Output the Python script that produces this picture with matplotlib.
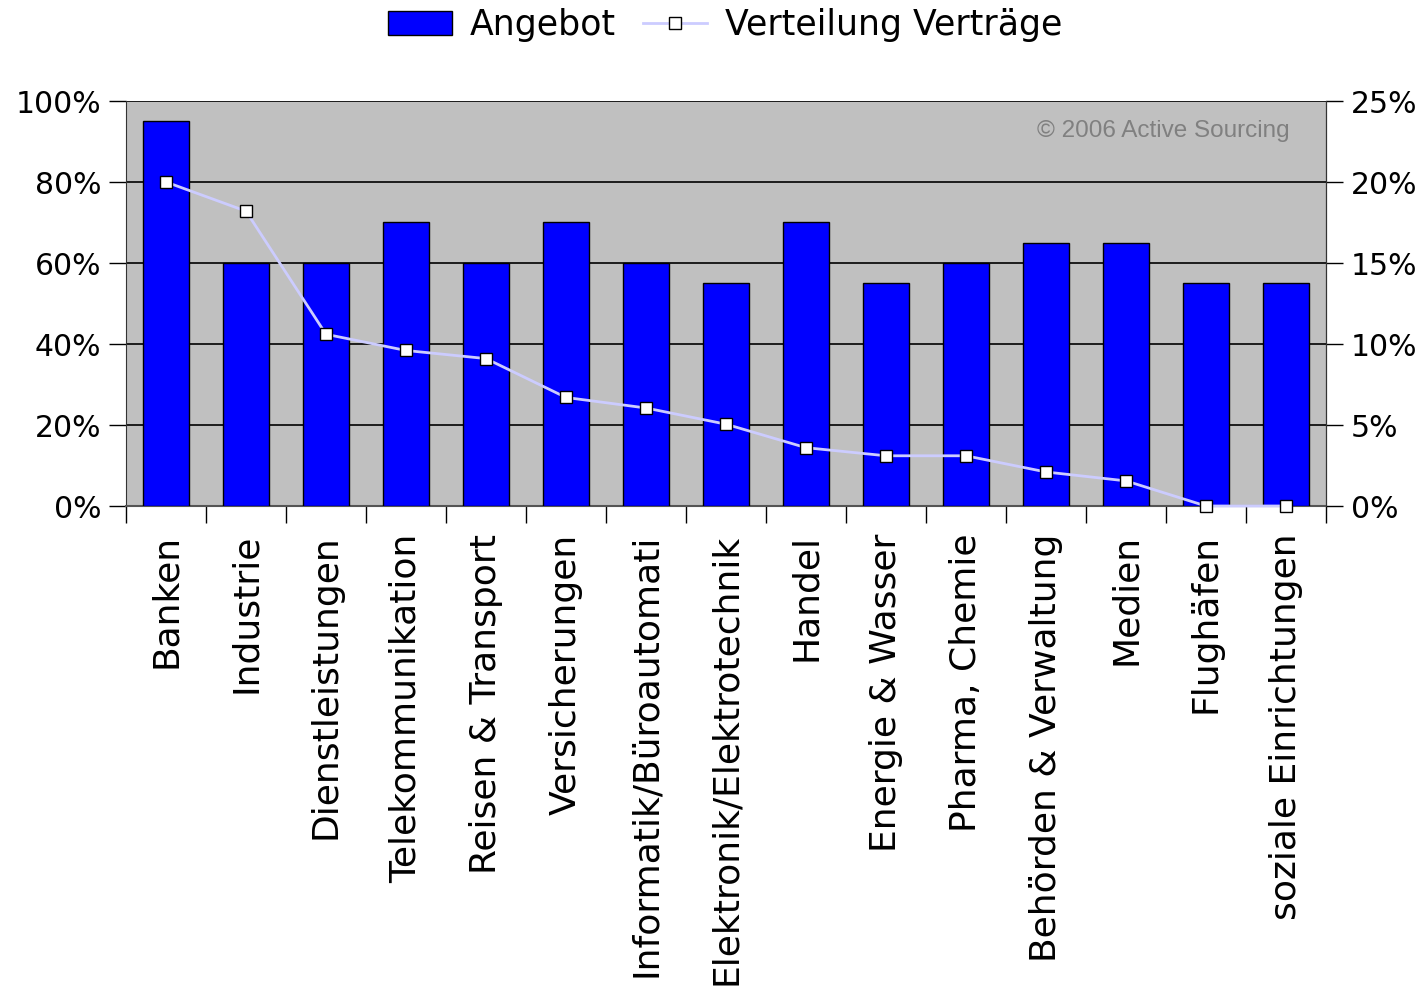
import matplotlib
matplotlib.use("Agg")
import matplotlib.pyplot as plt
import numpy as np
from matplotlib.ticker import FuncFormatter, FixedLocator
from matplotlib.lines import Line2D
from matplotlib.patches import Patch

categories = ["Banken", "Industrie", "Dienstleistungen", "Telekommunikation",
              "Reisen & Transport", "Versicherungen", "Informatik/Büroautomati",
              "Elektronik/Elektrotechnik", "Handel", "Energie & Wasser",
              "Pharma, Chemie", "Behörden & Verwaltung", "Medien", "Flughäfen",
              "soziale Einrichtungen"]
angebot = [95, 60, 60, 70, 60, 70, 60, 55, 70, 55, 60, 65, 65, 55, 55]
vertraege = [20.0, 18.2, 10.6, 9.6, 9.1, 6.7, 6.05, 5.05, 3.6, 3.1, 3.1, 2.1, 1.55, 0.0, 0.0]
left_ticks = [0, 20, 40, 60, 80, 100]
right_ticks = [0, 5, 10, 15, 20, 25]

plt.rcParams['font.family'] = ['DejaVu Sans']
fig = plt.figure(figsize=(14.27, 9.97), dpi=100)
ax = fig.add_axes([126/1427, 1-506/997, 1200/1427, 405/997])
ax.set_facecolor('#C0C0C0')
x = np.arange(len(categories))
ax.bar(x, angebot, width=0.58, color='#0000FF', edgecolor='black', linewidth=1, zorder=3)
ax.set_xlim(-0.5, len(categories)-0.5)
ax.set_ylim(0, 100)
ax.yaxis.set_major_locator(FixedLocator(left_ticks))
ax.yaxis.set_major_formatter(FuncFormatter(lambda v, p: f"{int(v)}%"))
ax.grid(axis='y', color='black', linewidth=1.2, zorder=1)
ax.set_axisbelow(True)
ax.set_xticks(x)
ax.set_xticklabels(categories, rotation=90, fontsize=26)
ax.tick_params(axis='x', length=0, pad=20)
ax.set_xticks(np.arange(-0.5, len(categories), 1), minor=True)
ax.tick_params(axis='x', which='minor', length=12, width=1, direction='out')
ax.tick_params(axis='y', labelsize=21.5, length=12, width=1, direction='out', pad=6)
ax.spines['top'].set_visible(False)
ax.spines['bottom'].set_color('#555555')
ax.spines['bottom'].set_linewidth(1.5)
ax.spines['left'].set_color('#333333')

ax2 = ax.twinx()
ax2.plot(x, vertraege, color='#CCCCFF', linewidth=2, marker='s', markersize=9,
         markerfacecolor='white', markeredgecolor='black', markeredgewidth=1, zorder=5, clip_on=False)
ax2.set_ylim(0, 25)
ax2.yaxis.set_major_locator(FixedLocator(right_ticks))
ax2.yaxis.set_major_formatter(FuncFormatter(lambda v, p: f"{int(v)}%"))
ax2.tick_params(axis='y', labelsize=21.5, length=12, width=1, direction='out', pad=6)
ax2.spines['top'].set_visible(False)
ax2.spines['bottom'].set_visible(False)
ax2.spines['left'].set_visible(False)
ax2.spines['right'].set_color('#333333')

ax.text(0.97, 0.925, "© 2006 Active Sourcing", transform=ax.transAxes, ha='right', va='center',
        fontsize=17.5, color='#808080', zorder=6, family='Liberation Sans')

handles = [Patch(facecolor='#0000FF', edgecolor='black', label='Angebot'),
           Line2D([0], [0], color='#CCCCFF', linewidth=2, marker='s', markersize=8,
                  markerfacecolor='white', markeredgecolor='black', label='Verteilung Verträge')]
fig.legend(handles=handles, loc='center', bbox_to_anchor=(725/1427, 1-25/997), ncol=2,
           frameon=False, fontsize=25, handlelength=1.85, handleheight=0.7, columnspacing=0.8,
           handletextpad=0.5)

fig.savefig('out.png', dpi=100)
